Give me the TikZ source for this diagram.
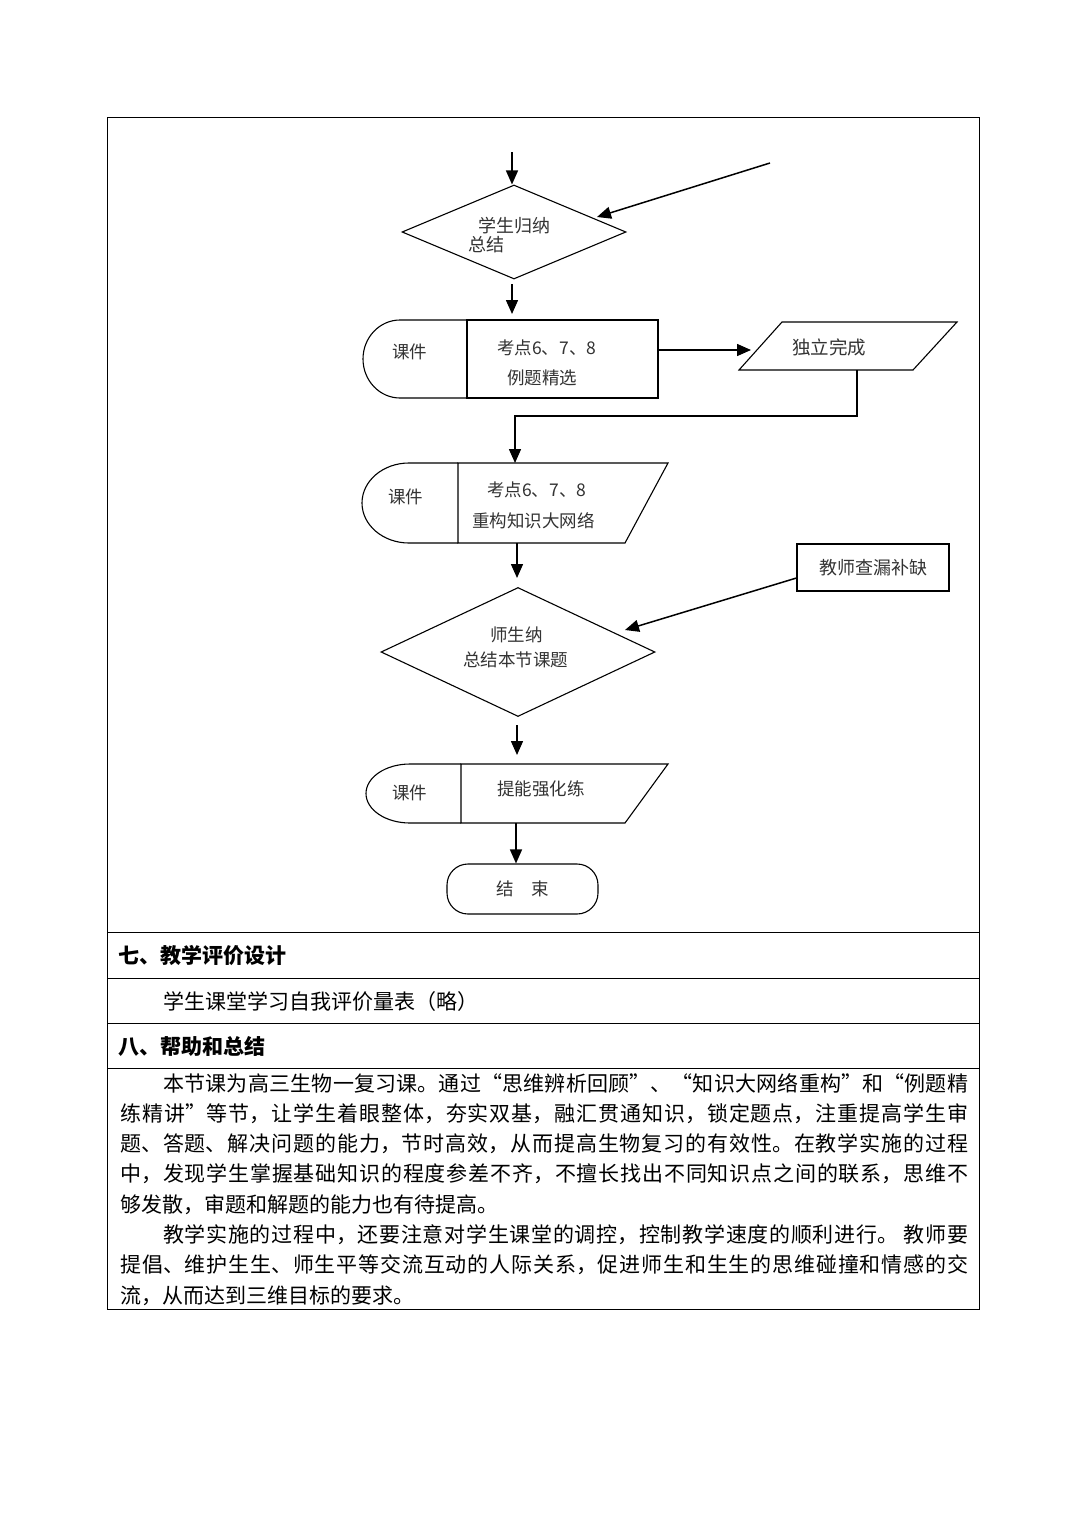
\documentclass[tikz,border=0pt]{standalone}
\usepackage{fontspec}
\setmainfont{Liberation Serif}
\newfontfamily\cjk{Noto Sans CJK SC}
\usetikzlibrary{arrows.meta,shapes.geometric}
\XeTeXlinebreaklocale "zh"
\XeTeXlinebreakskip=0pt plus 2pt
\begin{document}
\begin{tikzpicture}[x=1pt,y=-1pt,
  fcline/.style={line width=1.1pt,line join=miter},
  tbl/.style={line width=1pt},
  arr/.style={line width=1.5pt,-{Triangle[length=14pt,width=12pt]}},
  ftxt/.style={font=\cjk\fontsize{17.5}{20}\selectfont,text=black!80,inner sep=0pt,anchor=base west},
  btxt/.style={font=\cjk\fontsize{21}{30.3}\selectfont,text=black,inner sep=0pt,anchor=base west},
  htxt/.style={font=\cjk\bfseries\fontsize{21}{30.3}\selectfont,text=black,inner sep=0pt,anchor=base west}]
\useasboundingbox[fill=white] (0,0) rectangle (1087,1536);

% table
\draw[tbl] (107,118) rectangle (979,1309);
\draw[tbl] (107,932) -- (979,932);
\draw[tbl] (107,978) -- (979,978);
\draw[tbl] (107,1023) -- (979,1023);
\draw[tbl] (107,1068) -- (979,1068);

% diamond 1
\node[diamond,draw,fcline,inner sep=0pt,minimum width=224pt,minimum height=94pt] (d1) at (514,232) {};
\node[ftxt,font=\cjk\fontsize{18}{20}\selectfont] (d1t1) at (478,232) {学生归纳};
\node[ftxt,font=\cjk\fontsize{18}{20}\selectfont] (d1t2) at (468,251) {总结};

% shape 2
\draw[fcline] (467,320) -- (400,320) arc[start angle=90,end angle=270,x radius=37pt,y radius=39pt] -- (467,398);
\draw[fcline] (467,320) rectangle (658,398);
\node[ftxt] (s2a) at (392,358) {课件};
\node[ftxt] (s2b) at (497,354) {考点6、7、8};
\node[ftxt] (s2c) at (507,384) {例题精选};

% parallelogram
\draw[fcline] (782,322) -- (957,322) -- (913,370) -- (739,370) -- cycle;
\node[ftxt,font=\cjk\fontsize{18.5}{20}\selectfont] (p1) at (792,354) {独立完成};

% shape 3
\draw[fcline] (458,463) -- (409,463) arc[start angle=90,end angle=270,x radius=47pt,y radius=40pt] -- (458,543);
\draw[fcline] (458,463) -- (668,463) -- (625,543) -- (458,543) -- cycle;
\node[ftxt] (s3a) at (388,503) {课件};
\node[ftxt] (s3b) at (487,496) {考点6、7、8};
\node[ftxt] (s3c) at (472,527) {重构知识大网络};

% teacher box
\node[draw,fcline,minimum width=152pt,minimum height=47pt,inner sep=0pt,
  font=\cjk\fontsize{18}{20}\selectfont,text=black!80] (tb) at (873,567.5) {教师查漏补缺};

% diamond 2
\node[diamond,draw,fcline,inner sep=0pt,minimum width=274pt,minimum height=129pt] (d2) at (518,652) {};
\node[ftxt] (d2t1) at (490,641) {师生纳};
\node[ftxt] (d2t2) at (463,666) {总结本节课题};

% shape 4
\draw[fcline] (461,764) -- (410,764) arc[start angle=90,end angle=270,x radius=44pt,y radius=29.5pt] -- (461,823);
\draw[fcline] (461,764) -- (668,764) -- (625,823) -- (461,823) -- cycle;
\node[ftxt] (s4a) at (392,799) {课件};
\node[ftxt] (s4b) at (497,795) {提能强化练};

% terminal
\node[draw,fcline,rounded corners=21pt,minimum width=151pt,minimum height=50pt,inner sep=0pt,
  font=\cjk\fontsize{17.5}{20}\selectfont,text=black!80] (end) at (522.5,889) {结　束};

% connector coordinates
\coordinate (a0) at (512,152);
\coordinate (a1s) at (770,163);
\coordinate (a1e) at (597,217);
\coordinate (a2s) at (512,284);
\coordinate (a2e) at (512,314);
\coordinate (a3s) at (658,350);
\coordinate (a3e) at (751,350);
\coordinate (a4s) at (857,370);
\coordinate (a4m1) at (857,416);
\coordinate (a4m2) at (515,416);
\coordinate (a4e) at (515,463);
\coordinate (a5s) at (517,543);
\coordinate (a5e) at (517,578);
\coordinate (a6e) at (625,630);
\coordinate (a7s) at (517,725);
\coordinate (a7e) at (517,755);
\coordinate (a8s) at (516,823);

\draw[arr] (a0) -- (a0 |- d1.north);
\draw[arr] (a1s) -- (a1e);
\draw[arr] (a2s) -- (a2e);
\draw[arr] (a3s) -- (a3e);
\draw[arr] (a4s) -- (a4m1) -- (a4m2) -- (a4e);
\draw[arr] (a5s) -- (a5e);
\draw[arr] (tb.west |- 0,578) -- (a6e);
\draw[arr] (a7s) -- (a7e);
\draw[arr] (a8s) -- (a8s |- end.north);

% table text
\node[htxt] (h7) at (118,963) {七、教学评价设计};
\node[btxt] (t7) at (163,1009) {学生课堂学习自我评价量表（略）};
\node[htxt] (h8) at (118,1054) {八、帮助和总结};
\node[btxt] (body) at (120,1091) {\parbox[t]{848pt}{\fontsize{21}{30.3}\selectfont\parindent=43pt
本节课为高三生物一复习课。通过“思维辨析回顾”、“知识大网络重构”和“例题精\linebreak
练精讲”等节，让学生着眼整体，夯实双基，融汇贯通知识，锁定题点，注重提高学生审\linebreak
题、答题、解决问题的能力，节时高效，从而提高生物复习的有效性。在教学实施的过程\linebreak
中，发现学生掌握基础知识的程度参差不齐，不擅长找出不同知识点之间的联系，思维不\linebreak
够发散，审题和解题的能力也有待提高。\par
教学实施的过程中，还要注意对学生课堂的调控，控制教学速度的顺利进行。 教师要\linebreak
提倡、维护生生、师生平等交流互动的人际关系，促进师生和生生的思维碰撞和情感的交\linebreak
流，从而达到三维目标的要求。}};
\end{tikzpicture}
\end{document}
